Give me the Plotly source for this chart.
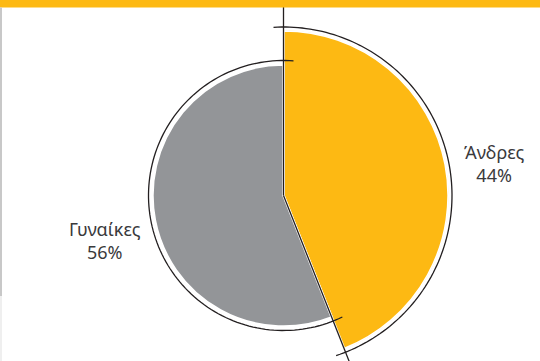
import numpy as np
import plotly.graph_objects as go

# ---- data ----
labels = ["Άνδρες", "Γυναίκες"]
values = [44, 56]
pct_text = ["44%", "56%"]

# ---- styling ----
W, H = 540, 361
CX, CY = 283.5, 195.5           # pie centre in px (from top-left)
RDOM = 165.5                    # polar radius in px
slice_r = [165, 131]            # px radii of each slice
outline_r = [168.5, 135]        # px radii of black outline arcs
overshoot_px = 10
radial_len = [192, 185]
colors = ["#FDB913", "#939598"]
ink = "#231F20"

total = sum(values)
starts, widths = [], []
acc = 0.0
for v in values:
    w = v / total * 360
    starts.append(acc)
    widths.append(w)
    acc += w
centers = [s + w / 2 for s, w in zip(starts, widths)]

fig = go.Figure()

# hidden pixel-matched cartesian axes for the decorative outline shapes
fig.add_trace(go.Scatter(x=[0, W], y=[0, H], mode="markers",
                         marker=dict(opacity=0), hoverinfo="skip", showlegend=False))

fig.add_trace(go.Barpolar(
    r=slice_r, theta=centers, width=widths,
    marker=dict(color=colors, line=dict(color="white", width=2.5)),
    hoverinfo="skip", showlegend=False,
))


def pt(r, deg):
    a = np.radians(deg)
    return CX + r * np.sin(a), CY - r * np.cos(a)


shapes = []
# outline arcs
for i in range(len(values)):
    ov = np.degrees(overshoot_px / outline_r[i])
    th = np.linspace(starts[i] - ov, starts[i] + widths[i] + ov, 120)
    pts = [pt(outline_r[i], t) for t in th]
    path = "M " + " L ".join(f"{x:.2f},{y:.2f}" for x, y in pts)
    shapes.append(dict(type="path", xref="x", yref="y", path=path,
                       line=dict(color=ink, width=1.3), layer="above"))
# radial boundary lines
for b, rr in zip(starts, radial_len):
    x1, y1 = pt(rr, b)
    shapes.append(dict(type="line", xref="x", yref="y", x0=CX, y0=CY, x1=x1, y1=y1,
                       line=dict(color=ink, width=1.3), layer="above"))

shapes += [
    dict(type="rect", xref="paper", yref="paper", x0=0, x1=1,
         y0=1 - 7.5 / H, y1=1, fillcolor="#FDB913", line=dict(width=0), layer="above"),
    dict(type="rect", xref="paper", yref="paper", x0=0, x1=2 / W,
         y0=1 - 296 / H, y1=1 - 7.5 / H, fillcolor="#C8C8C8", line=dict(width=0), layer="above"),
    dict(type="rect", xref="paper", yref="paper", x0=0, x1=2 / W,
         y0=0, y1=1 - 296 / H, fillcolor="#EFEFEF", line=dict(width=0), layer="above"),
]

fig.update_layout(
    width=W, height=H,
    margin=dict(l=0, r=0, t=0, b=0),
    paper_bgcolor="white",
    plot_bgcolor="rgba(0,0,0,0)",
    xaxis=dict(visible=False, range=[0, W], domain=[0, 1], fixedrange=True),
    yaxis=dict(visible=False, range=[H, 0], domain=[0, 1], fixedrange=True),
    polar=dict(
        domain=dict(x=[(CX - RDOM) / W, (CX + RDOM) / W],
                    y=[(H - CY - RDOM) / H, (H - CY + RDOM) / H]),
        bgcolor="rgba(0,0,0,0)",
        radialaxis=dict(visible=False, range=[0, RDOM]),
        angularaxis=dict(visible=False, rotation=90, direction="clockwise"),
    ),
    shapes=shapes,
)

label_pos = [(494, 163), (105, 241)]
for (lx, ly), lab, pc in zip(label_pos, labels, pct_text):
    fig.add_annotation(
        x=lx / W, y=1 - ly / H, xref="paper", yref="paper",
        xanchor="center", yanchor="middle",
        text=f"{lab}<br>{pc}", showarrow=False, align="center",
        font=dict(family="Noto Sans", size=18, color="#3A3A3C"),
    )

fig.write_html("out.html")
